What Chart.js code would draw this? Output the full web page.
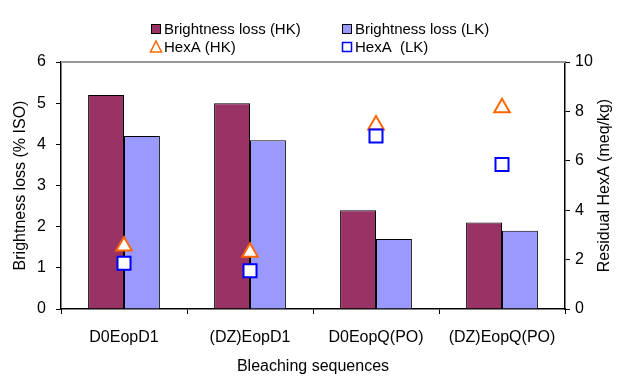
<!DOCTYPE html>
<html>
<head>
<meta charset="utf-8">
<script src="https://cdn.jsdelivr.net/npm/chart.js@4.4.1/dist/chart.umd.min.js"></script>
<style>
  html, body { margin: 0; padding: 0; background: #fff; }
  #wrap { width: 617px; height: 376px; }
</style>
</head>
<body>
<div id="wrap"><canvas id="chart" width="617" height="376"></canvas></div>
<script>
// categories and values
const sequences = ['D0EopD1', '(DZ)EopD1', 'D0EopQ(PO)', '(DZ)EopQ(PO)'];
const lossHK = [5.2, 5.0, 2.4, 2.1];
const lossLK = [4.2, 4.1, 1.7, 1.9];
const hexaHK = [2.55, 2.3, 7.45, 8.15];
const hexaLK = [1.85, 1.55, 7.0, 5.85];

const FONT = '"Liberation Sans", Arial, sans-serif';

// legend laid out in two rows / two columns like the original
const legendPlugin = {
  id: 'twoColLegend',
  afterDraw(chart) {
    const ctx = chart.ctx;
    ctx.save();
    ctx.font = '15px ' + FONT;
    ctx.textBaseline = 'middle';
    const cols = [156, 347];
    const rows = [29, 47];
    chart.data.datasets.forEach(function (ds, i) {
      const cx = cols[i % 2];
      const cy = rows[Math.floor(i / 2)];
      if (ds.type === 'bar') {
        ctx.fillStyle = ds.backgroundColor;
        ctx.fillRect(cx - 4.5, cy - 4.5, 9, 9);
        ctx.strokeStyle = '#000';
        ctx.lineWidth = 1;
        ctx.strokeRect(cx - 4.5, cy - 4.5, 9, 9);
      } else if (ds.pointStyle === 'triangle') {
        ctx.strokeStyle = ds.borderColor;
        ctx.lineWidth = 1.5;
        ctx.beginPath();
        ctx.moveTo(cx, cy - 6);
        ctx.lineTo(cx + 5.5, cy + 5);
        ctx.lineTo(cx - 5.5, cy + 5);
        ctx.closePath();
        ctx.stroke();
      } else {
        ctx.strokeStyle = ds.borderColor;
        ctx.lineWidth = 1.5;
        ctx.strokeRect(cx - 4.5, cy - 4.5, 9, 9);
      }
      ctx.fillStyle = '#000';
      ctx.fillText(ds.label, cx + 8, cy + 1);
    });
    ctx.restore();
  }
};

// grey top frame line and the right axis title (reads bottom to top)
const framePlugin = {
  id: 'frameTop',
  afterDatasetsDraw(chart) {
    const a = chart.chartArea;
    const ctx = chart.ctx;
    ctx.save();
    ctx.strokeStyle = '#999';
    ctx.lineWidth = 2;
    ctx.beginPath();
    ctx.moveTo(a.left, a.top);
    ctx.lineTo(a.right, a.top);
    ctx.stroke();
    ctx.restore();
  },
  afterDraw(chart) {
    const a = chart.chartArea;
    const ctx = chart.ctx;
    ctx.save();
    ctx.font = '16px ' + FONT;
    ctx.fillStyle = '#000';
    ctx.textAlign = 'center';
    ctx.textBaseline = 'middle';
    ctx.translate(605, (a.top + a.bottom) / 2);
    ctx.rotate(-Math.PI / 2);
    ctx.fillText('Residual HexA (meq/kg)', 0, 0);
    ctx.restore();
  }
};

Chart.defaults.font.family = FONT;
Chart.defaults.color = '#000';

const ctx = document.getElementById('chart').getContext('2d');
const chart = new Chart(ctx, {
  type: 'bar',
  data: {
    labels: sequences,
    datasets: [
      {
        type: 'bar',
        label: 'Brightness loss (HK)',
        data: lossHK,
        backgroundColor: '#993366',
        borderColor: '#000',
        borderWidth: 1,
        yAxisID: 'y',
        order: 2
      },
      {
        type: 'bar',
        label: 'Brightness loss (LK)',
        data: lossLK,
        backgroundColor: '#9999FF',
        borderColor: '#000',
        borderWidth: 1,
        yAxisID: 'y',
        order: 2
      },
      {
        type: 'line',
        label: 'HexA (HK)',
        data: hexaHK,
        showLine: false,
        pointStyle: 'triangle',
        pointRadius: 9,
        pointHoverRadius: 9,
        borderColor: '#FF6600',
        backgroundColor: '#fff',
        pointBorderWidth: 2,
        yAxisID: 'y2',
        order: 1
      },
      {
        type: 'line',
        label: 'HexA  (LK)',
        data: hexaLK,
        showLine: false,
        pointStyle: 'rect',
        pointRadius: 9.2,
        pointHoverRadius: 9.2,
        borderColor: '#0000FF',
        backgroundColor: '#fff',
        pointBorderWidth: 2,
        yAxisID: 'y2',
        order: 0
      }
    ]
  },
  options: {
    responsive: false,
    animation: false,
    layout: { padding: { top: 62, left: 0, right: 0, bottom: 0 } },
    datasets: {
      bar: { categoryPercentage: 0.57, barPercentage: 1.0 }
    },
    plugins: {
      legend: { display: false },
      tooltip: { enabled: false }
    },
    scales: {
      x: {
        grid: { display: true, drawOnChartArea: false, tickLength: 5, color: '#000', offset: true },
        border: { display: true, color: '#000', width: 1.5 },
        ticks: { font: { size: 16 }, padding: 14, maxRotation: 0 },
        title: { display: true, text: 'Bleaching sequences', font: { size: 16 }, padding: { top: 12, bottom: 0 } },
        afterFit(s) { s.height = 67; }
      },
      y: {
        position: 'left',
        min: 0,
        max: 6,
        grid: { drawOnChartArea: false, tickLength: 5, color: '#000' },
        border: { display: true, color: '#000', width: 1.5 },
        ticks: { stepSize: 1, font: { size: 16 }, padding: 10 },
        title: { display: true, text: 'Brightness loss (% ISO)', font: { size: 16 }, padding: { top: 11, bottom: 0 } },
        afterFit(s) { s.width = 61; }
      },
      y2: {
        position: 'right',
        min: 0,
        max: 10,
        grid: { drawOnChartArea: false, tickLength: 5, color: '#000' },
        border: { display: true, color: '#000', width: 1.5 },
        ticks: { stepSize: 2, font: { size: 16 }, padding: 5 },
        afterFit(s) { s.width = 52; }
      }
    }
  },
  plugins: [legendPlugin, framePlugin]
});
</script>
</body>
</html>
